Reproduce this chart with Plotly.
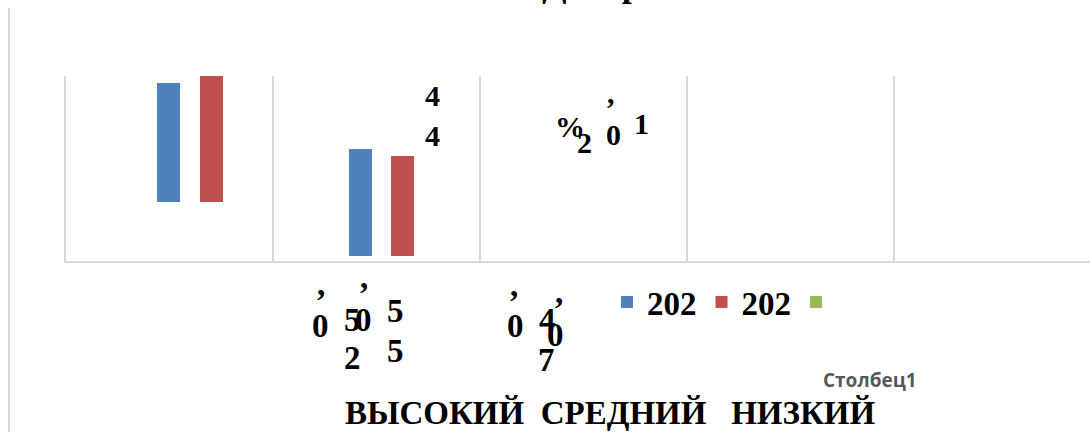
import plotly.graph_objects as go

# ---------------- data ----------------
categories = ["ВЫСОКИЙ", "СРЕДНИЙ", "НИЗКИЙ"]
series_names = ["202", "202", ""]
extra_label = "Столбец1"
title_text = "Диаграмма"

# bar extents (axis units 0..100)
bar_x = [0, 1]
s1_bottom = [31.9, 2.7]
s1_top = [96.2, 60.5]
s2_bottom = [31.9, 2.7]
s2_top = [104.0, 56.8]
s3_values = [0, 0]

# broken data-label fragments (text as shown)
frag_text_top = ["4", "4", "%", "2", ",", "0", "1"]
frag_text_bottom = [",", "0", "5", "0", ",", "2", "5", "5",
                    ",", "0", "4", ",", "0", "7"]

# ---------------- layout helpers ----------------
W, H = 1090, 432
L, R, T, B = 66, 0, 76, 171
PW, PH = W - L - R, H - T - B
SLOT = 207.0

def px(xp):
    return (xp - L) / PW

def py(yp):
    return (H - B - yp) / PH

BLUE, RED, GREEN = "#4f81bd", "#c0504d", "#9bbb59"
GRID = "#d9d9d9"
SERIF = "Liberation Serif, Times New Roman, serif"

bar_w = 23 / SLOT
off1 = [(157 - L) / SLOT - 0.5 - 0, (349 - L) / SLOT - 0.5 - 1]
off2 = [(200 - L) / SLOT - 0.5 - 0, (391 - L) / SLOT - 0.5 - 1]

fig = go.Figure()
fig.add_trace(go.Bar(
    x=bar_x, y=[t - b for t, b in zip(s1_top, s1_bottom)], base=s1_bottom,
    name=series_names[0], marker=dict(color=BLUE, line=dict(width=0)),
    width=[bar_w] * 2, offset=off1))
fig.add_trace(go.Bar(
    x=bar_x, y=[t - b for t, b in zip(s2_top, s2_bottom)], base=s2_bottom,
    name=series_names[1], marker=dict(color=RED, line=dict(width=0)),
    width=[bar_w] * 2, offset=off2))
fig.add_trace(go.Bar(
    x=bar_x, y=s3_values, name=series_names[2],
    marker=dict(color=GREEN, line=dict(width=0)), width=[bar_w] * 2))

annotations = []

# fragments: (x center px, baseline px)
pos_top = [(432, 107), (432, 147), (570, 138), (584, 154), (611, 104),
           (613, 146), (641, 135)]
pos_bottom = [(321, 296), (320, 338), (352, 332), (363, 332), (364, 289),
              (352, 370), (395, 323), (395, 363), (514, 297), (515, 338),
              (547, 332), (559, 304), (555, 347), (546, 372)]

def frag(txt, xc, base, size):
    bottom = base + 0.216 * size + 1
    annotations.append(dict(
        text=txt, x=px(xc), y=py(bottom), xref="paper", yref="paper",
        xanchor="center", yanchor="bottom", showarrow=False,
        font=dict(family=SERIF, size=size, color="black", weight="bold")))

for t, (xc, b) in zip(frag_text_top, pos_top):
    frag(t, xc, b, 30)
for t, (xc, b) in zip(frag_text_bottom, pos_bottom):
    frag(t, xc, b, 33)

# category labels
annotations.append(dict(
    text=categories[0] + "  " + categories[1] + "   " + categories[2],
    x=px(610), y=py(425 + 0.216 * 33 + 1), xref="paper", yref="paper",
    xanchor="center", yanchor="bottom", showarrow=False,
    font=dict(family=SERIF, size=33, color="black", weight="bold")))

# stray series label
annotations.append(dict(
    text=extra_label, x=px(821), y=py(380), xref="paper", yref="paper",
    xanchor="left", yanchor="middle", showarrow=False,
    font=dict(family="Open Sans, Lato, sans-serif", size=19,
              color="#595959", weight="bold")))

# clipped title
annotations.append(dict(
    text=title_text, x=px(540), y=py(-3 + 0.216 * 36 + 1), xref="paper",
    yref="paper", xanchor="left", yanchor="bottom", showarrow=False,
    font=dict(family=SERIF, size=36, color="black", weight="bold")))

shapes = [dict(type="line", xref="paper", yref="paper",
               x0=px(9), x1=px(9), y0=py(8), y1=py(H + 2),
               line=dict(color=GRID, width=2))]

fig.update_layout(
    width=W, height=H,
    margin=dict(l=L, r=R, t=T, b=B, pad=0),
    paper_bgcolor="white", plot_bgcolor="white",
    barmode="overlay",
    showlegend=True,
    legend=dict(orientation="h", x=px(607), y=py(302), xanchor="left",
                yanchor="middle", font=dict(family=SERIF, size=33,
                                            color="black", weight="bold"),
                bgcolor="rgba(0,0,0,0)", traceorder="normal",
                itemclick=False),
    xaxis=dict(range=[-0.5, -0.5 + PW / SLOT], tick0=-0.5, dtick=1,
               showgrid=True, gridcolor=GRID, gridwidth=1.5,
               showticklabels=False, ticks="", zeroline=False,
               showline=True, linecolor=GRID, linewidth=2, fixedrange=True),
    yaxis=dict(range=[0, 100], showgrid=False, showticklabels=False,
               ticks="", zeroline=False, showline=True, linecolor=GRID,
               linewidth=1.5, fixedrange=True),
    annotations=annotations, shapes=shapes,
)

fig.write_html("out.html", config={"displayModeBar": False},
               post_script="document.body.style.margin='0px';"
                           "document.body.style.overflow='hidden';")
